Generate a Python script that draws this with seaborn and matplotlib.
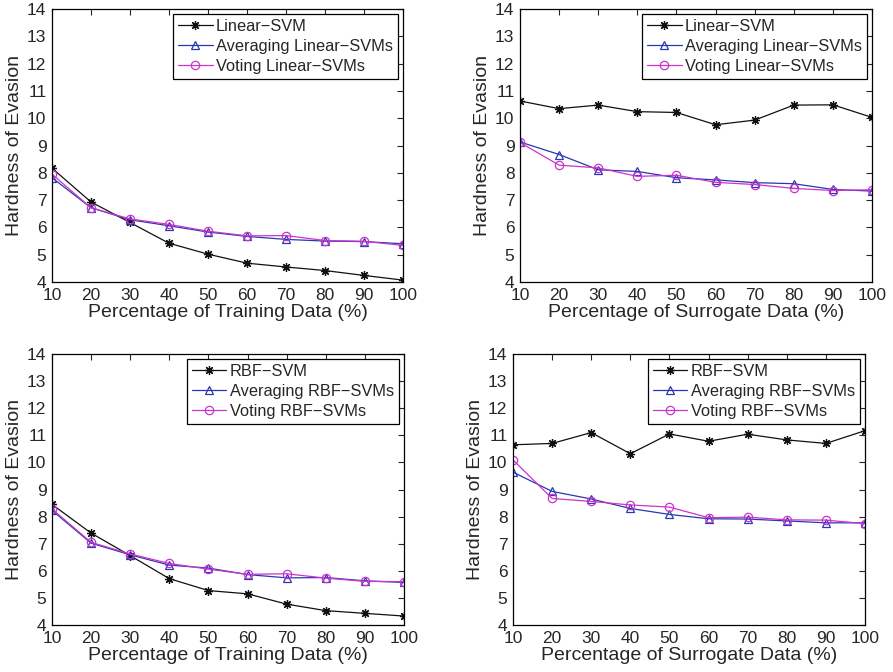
import matplotlib
matplotlib.use("Agg")
import matplotlib.pyplot as plt
import seaborn as sns
import pandas as pd

# ============ Data ============
pct = [10, 20, 30, 40, 50, 60, 70, 80, 90, 100]

# top-left: training data, linear
lin_train_svm = [8.17, 6.93, 6.18, 5.42, 5.02, 4.69, 4.55, 4.42, 4.24, 4.07]
lin_train_avg = [7.82, 6.72, 6.28, 6.06, 5.83, 5.67, 5.56, 5.50, 5.48, 5.40]
lin_train_vote = [7.95, 6.72, 6.31, 6.11, 5.86, 5.69, 5.70, 5.52, 5.49, 5.34]

# top-right: surrogate data, linear
lin_surr_svm = [10.63, 10.35, 10.48, 10.24, 10.21, 9.76, 9.93, 10.48, 10.49, 10.03]
lin_surr_avg = [9.13, 8.67, 8.11, 8.05, 7.82, 7.74, 7.64, 7.60, 7.39, 7.33]
lin_surr_vote = [9.11, 8.28, 8.18, 7.87, 7.91, 7.65, 7.57, 7.43, 7.35, 7.38]

# bottom-left: training data, RBF
rbf_train_svm = [8.45, 7.39, 6.56, 5.71, 5.27, 5.15, 4.77, 4.53, 4.43, 4.33]
rbf_train_avg = [8.23, 7.02, 6.59, 6.21, 6.10, 5.86, 5.74, 5.75, 5.63, 5.57]
rbf_train_vote = [8.28, 7.05, 6.62, 6.27, 6.06, 5.87, 5.89, 5.73, 5.61, 5.60]

# bottom-right: surrogate data, RBF
rbf_surr_svm = [10.65, 10.70, 11.10, 10.32, 11.05, 10.78, 11.04, 10.83, 10.70, 11.17]
rbf_surr_avg = [9.64, 8.93, 8.65, 8.30, 8.08, 7.92, 7.91, 7.84, 7.77, 7.77]
rbf_surr_vote = [10.09, 8.67, 8.56, 8.43, 8.35, 7.96, 7.98, 7.88, 7.87, 7.74]

LIN_NAMES = ["Linear\u2212SVM", "Averaging Linear\u2212SVMs", "Voting Linear\u2212SVMs"]
RBF_NAMES = ["RBF\u2212SVM", "Averaging RBF\u2212SVMs", "Voting RBF\u2212SVMs"]

XLAB_TRAIN = "Percentage of Training Data (%)"
XLAB_SURR = "Percentage of Surrogate Data (%)"
YLAB = "Hardness of Evasion"

# ============ Style ============
sns.set_style("white")
plt.rcParams["font.family"] = ["Liberation Sans", "DejaVu Sans"]

COLORS = ["#111111", "#2838b0", "#cc33cc"]
MARKERS = [(8, 2, 0), "^", "o"]

panels = [
    # (rect, names, series, xlabel)
    ([52 / 893, 1 - 282 / 672, 351 / 893, 273 / 672], LIN_NAMES,
     [lin_train_svm, lin_train_avg, lin_train_vote], XLAB_TRAIN),
    ([520 / 893, 1 - 282 / 672, 352 / 893, 273 / 672], LIN_NAMES,
     [lin_surr_svm, lin_surr_avg, lin_surr_vote], XLAB_SURR),
    ([52 / 893, 1 - 625 / 672, 352 / 893, 271 / 672], RBF_NAMES,
     [rbf_train_svm, rbf_train_avg, rbf_train_vote], XLAB_TRAIN),
    ([513 / 893, 1 - 625 / 672, 352 / 893, 271 / 672], RBF_NAMES,
     [rbf_surr_svm, rbf_surr_avg, rbf_surr_vote], XLAB_SURR),
]

fig = plt.figure(figsize=(8.93, 6.72), dpi=100)

for rect, names, series, xlabel in panels:
    ax = fig.add_axes(rect)
    df = pd.DataFrame({"pct": pct * 3,
                       "value": series[0] + series[1] + series[2],
                       "model": [n for n in names for _ in pct]})
    for i, name in enumerate(names):
        sub = df[df["model"] == name]
        sns.lineplot(data=sub, x="pct", y="value", ax=ax, label=name,
                     color=COLORS[i], marker=MARKERS[i], linewidth=0.9,
                     markersize=6.5 if i == 0 else 6,
                     markerfacecolor="none" if i > 0 else COLORS[i],
                     markeredgecolor=COLORS[i], markeredgewidth=0.9)
    ax.set_xlim(10, 100)
    ax.set_ylim(4, 14)
    ax.set_xticks(pct)
    ax.set_yticks(range(4, 15))
    ax.tick_params(direction="in", top=True, right=True, length=4,
                   width=0.8, labelsize=12.5, pad=4)
    for sp in ax.spines.values():
        sp.set_visible(True)
        sp.set_color("black")
        sp.set_linewidth(0.9)
    ax.set_xlabel(xlabel, fontsize=14, labelpad=1)
    ax.set_ylabel(YLAB, fontsize=14, labelpad=3)
    leg = ax.legend(loc="upper right", fontsize=11.8, frameon=True,
                    fancybox=False, edgecolor="black", framealpha=1,
                    handlelength=2.1, handletextpad=0.2, borderpad=0.32,
                    labelspacing=0.3, borderaxespad=0.3)
    leg.get_frame().set_linewidth(0.9)

fig.savefig("out.png", dpi=100)
